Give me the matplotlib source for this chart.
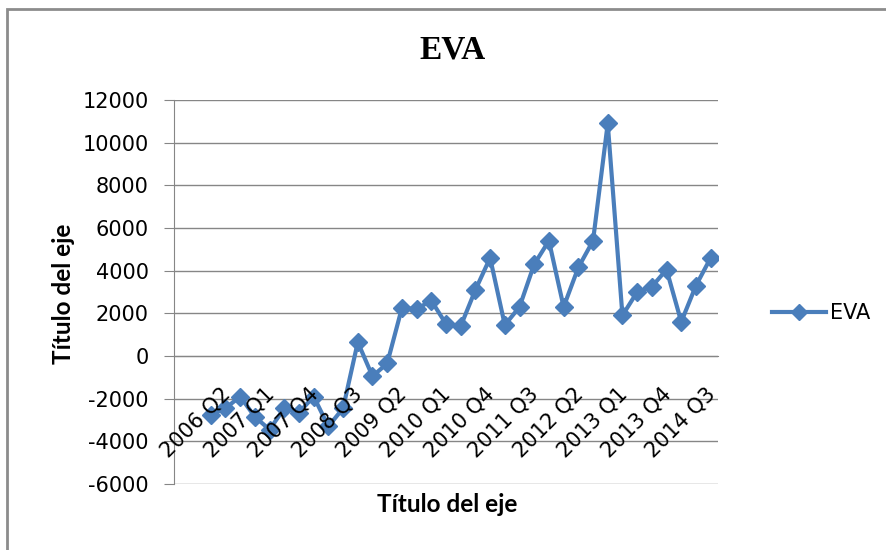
import matplotlib
matplotlib.use('Agg')
import matplotlib.pyplot as plt
import numpy as np
from matplotlib.transforms import ScaledTranslation
from matplotlib.patches import Rectangle

categories = [
    '2005 Q4',
    '2006 Q1', '2006 Q2', '2006 Q3', '2006 Q4',
    '2007 Q1', '2007 Q2', '2007 Q3', '2007 Q4',
    '2008 Q1', '2008 Q2', '2008 Q3', '2008 Q4',
    '2009 Q1', '2009 Q2', '2009 Q3', '2009 Q4',
    '2010 Q1', '2010 Q2', '2010 Q3', '2010 Q4',
    '2011 Q1', '2011 Q2', '2011 Q3', '2011 Q4',
    '2012 Q1', '2012 Q2', '2012 Q3', '2012 Q4',
    '2013 Q1', '2013 Q2', '2013 Q3', '2013 Q4',
    '2014 Q1', '2014 Q2', '2014 Q3', '2014 Q4',
]
eva = [np.nan, np.nan,
       -2750, -2450, -1900, -2850, -3450, -2450, -2650, -1900, -3300, -2450,
       650, -950, -350, 2250, 2200, 2600, 1500, 1400, 3100, 4600,
       1450, 2300, 4300, 5400, 2300, 4150, 5400, 10900, 1900, 3000,
       3250, 4050, 1600, 3300, 4600]
tick_labels = ['2006 Q2', '2007 Q1', '2007 Q4', '2008 Q3', '2009 Q2', '2010 Q1',
               '2010 Q4', '2011 Q3', '2012 Q2', '2013 Q1', '2013 Q4', '2014 Q3']
y_ticks = [-6000, -4000, -2000, 0, 2000, 4000, 6000, 8000, 10000, 12000]

BLUE = '#4A7EBB'
GRID = '#868686'
TICKFONT = 'DejaVu Sans'
TITLEFONT = 'Lato'

fig = plt.figure(figsize=(8.87, 5.5), dpi=100)
ax = fig.add_axes([174/887, 66/550, 544/887, 384/550])
x = np.arange(len(categories))
ax.plot(x, eva, color=BLUE, lw=3, marker='D', ms=9, label='EVA', zorder=2)

ax.set_xlim(-0.5, len(categories) - 0.5)
ax.set_ylim(-6000, 12000)
ax.set_yticks(y_ticks, [str(v) for v in y_ticks])
ax.set_xticks([categories.index(l) for l in tick_labels], tick_labels)

ax.grid(axis='y', color=GRID, lw=1)
ax.yaxis.set_zorder(0.5)
ax.xaxis.set_zorder(3)
for s in ['top', 'right']:
    ax.spines[s].set_visible(False)
ax.spines['left'].set_color(GRID)
ax.spines['bottom'].set_color(GRID)
ax.spines['bottom'].set_position(('data', 0))
ax.spines['bottom'].set_zorder(0.5)
ax.spines['left'].set_zorder(0.5)

ax.tick_params(axis='y', length=7, color=GRID, pad=11, labelsize=15)
ax.tick_params(axis='x', length=0, pad=0, labelsize=15)
for lbl in ax.get_yticklabels():
    lbl.set_family(TICKFONT)
off = ScaledTranslation(0.09, -0.28, fig.dpi_scale_trans)
for lbl in ax.get_xticklabels():
    lbl.set_family(TICKFONT)
    lbl.set_rotation(45)
    lbl.set_ha('right')
    lbl.set_va('top')
    lbl.set_rotation_mode('anchor')
    lbl.set_transform(lbl.get_transform() + off)

leg = ax.legend(loc='center left', bbox_to_anchor=(772/887, 1 - 313/550),
                bbox_transform=fig.transFigure, frameon=False, handlelength=2.6,
                handletextpad=0.2, borderaxespad=0, borderpad=0, markerscale=0.85,
                prop={'family': TICKFONT, 'size': 15})

fig.text(453/887, 1 - 50/550, 'EVA', ha='center', va='center', fontsize=24,
         fontweight='bold', family='Liberation Serif')
fig.text(447/887, 1 - 505/550, 'Título del eje', ha='center', va='center',
         fontsize=17.5, fontweight='bold', family=TITLEFONT)
fig.text(64/887, 1 - 294/550, 'Título del eje', ha='center', va='center',
         fontsize=17.5, fontweight='bold', family=TITLEFONT, rotation=90)

fig.patches.append(Rectangle((7/887, -0.1), 1.2, 1 - 9/550 + 0.1,
                             transform=fig.transFigure, fill=False,
                             edgecolor='#8c8c8c', lw=2))

fig.savefig('out.png', dpi=100)
